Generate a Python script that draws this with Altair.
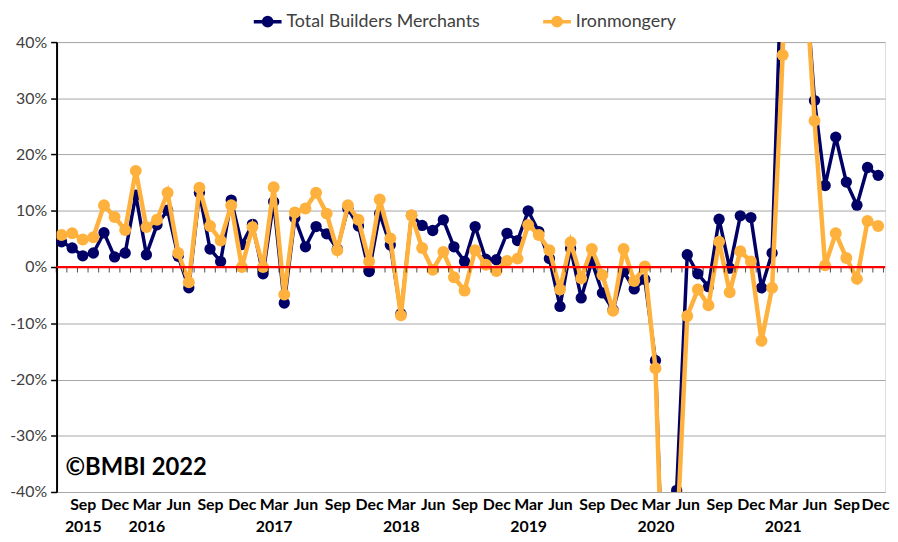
import altair as alt
import pandas as pd

# Monthly year-on-year change (%), Jul 2015 .. Dec 2021
month_names = ["Jan", "Feb", "Mar", "Apr", "May", "Jun", "Jul", "Aug", "Sep", "Oct", "Nov", "Dec"]
start_year = 2015
start_month_index = 6  # July (0 = Jan)

total_builders = [
    4.5, 3.4, 2.0, 2.5, 6.1, 1.8,
    2.5, 12.8, 2.2, 7.5, 10.1, 1.9, -3.7, 13.2, 3.2, 1.0, 11.9, 4.0,
    7.6, -1.2, 11.6, -6.4, 8.7, 3.6, 7.2, 5.9, 3.2, 10.4, 7.3, -0.8,
    9.5, 3.9, -8.3, 9.2, 7.4, 6.5, 8.4, 3.6, 1.0, 7.2, 1.4, 1.3,
    6.0, 4.7, 10.0, 6.3, 1.5, -7.0, 3.3, -5.5, 1.0, -4.6, -7.6, -0.8,
    -3.9, -2.2, -16.6, -75.0, -39.7, 2.2, -1.2, -3.5, 8.5, -0.2, 9.1, 8.8,
    -3.7, 2.5, 60.0, 115.0, 55.0, 29.6, 14.5, 23.1, 15.1, 11.0, 17.7, 16.3,
]
ironmongery = [
    5.7, 6.0, 4.9, 5.3, 11.0, 8.9,
    6.6, 17.1, 7.1, 8.4, 13.2, 2.5, -2.7, 14.1, 7.3, 4.7, 11.0, 0.0,
    7.1, 0.0, 14.2, -4.9, 9.7, 10.4, 13.2, 9.5, 3.0, 11.0, 8.4, 1.0,
    12.0, 5.1, -8.6, 9.2, 3.4, -0.5, 2.7, -1.8, -4.2, 3.0, 0.4, -0.7,
    1.1, 1.5, 7.5, 5.7, 3.0, -4.0, 4.4, -2.0, 3.2, -1.4, -7.8, 3.2,
    -2.5, 0.1, -18.0, -77.0, -49.0, -8.7, -4.0, -6.8, 4.5, -4.5, 2.8, 1.0,
    -13.1, -3.7, 37.7, 120.0, 56.0, 26.0, 0.3, 6.0, 1.6, -2.1, 8.2, 7.3,
]
series_names = ["Total Builders Merchants", "Ironmongery"]
series_colors = ["#000066", "#FFB13D"]
y_ticks = [-0.4, -0.3, -0.2, -0.1, 0.0, 0.1, 0.2, 0.3, 0.4]
x_tick_step = 3
x_first_tick = 2  # Sep 2015
copyright_label = "\u00a9BMBI 2022"

n = len(total_builders)
rows = []
for i in range(n):
    rows.append({"idx": i, "value": total_builders[i] / 100, "series": series_names[0]})
for i in range(n):
    rows.append({"idx": i, "value": ironmongery[i] / 100, "series": series_names[1]})
df = pd.DataFrame(rows)
bounds = pd.DataFrame({"b": [i + 0.5 for i in range(-1, n)]})
single = pd.DataFrame({"label": [copyright_label]})

x_ticks = list(range(x_first_tick, n, x_tick_step))
arr = "[" + ",".join("'" + m + "'" for m in month_names) + "]"
label_expr = (
    f"[{arr}[(datum.value+{start_month_index})%12], "
    f"(((datum.value+{start_month_index})%12)==2 || datum.value=={x_first_tick}) ? "
    f"'' + ({start_year}+floor((datum.value+{start_month_index})/12)) : '']"
)

x_scale = alt.Scale(domain=[-0.47, n - 1 + 0.65], nice=False, zero=False)
y_scale = alt.Scale(domain=[-0.4, 0.4], nice=False)
color_scale = alt.Scale(domain=series_names, range=series_colors)

legend_path = "M-1,0H1M-0.3,0A0.3,0.3,0,1,1,0.3,0A0.3,0.3,0,1,1,-0.3,0Z"

x_axis = alt.Axis(values=x_ticks, labelExpr=label_expr, grid=False, domain=False,
                  ticks=False, labelFont="Lato", labelFontWeight="bold",
                  labelFontSize=16, labelColor="#000000", labelPadding=5,
                  labelLineHeight=22, labelOverlap=False, labelBound=False,
                  labelFlush=9, labelFlushOffset=11, labelBaseline="top")
y_axis = alt.Axis(values=y_ticks, labelExpr="round(datum.value*100) + '%'",
                  grid=True, gridColor="#a6a6a6", gridWidth=1,
                  domain=True, domainColor="#000000", domainWidth=2,
                  ticks=True, tickColor="#000000", tickSize=6, tickWidth=1.5,
                  labelFont="Lato", labelFontSize=16, labelColor="#404040",
                  labelPadding=4)

x_enc = alt.X("idx:Q", scale=x_scale, title=None, axis=x_axis)
y_enc = alt.Y("value:Q", scale=y_scale, title=None, axis=y_axis)
color_enc = alt.Color("series:N", scale=color_scale, title=None,
                      legend=alt.Legend(orient="none", legendX=197, legendY=-37,
                                        direction="horizontal", symbolType=legend_path,
                                        symbolSize=784, symbolStrokeWidth=3.5,
                                        labelFont="Lato", labelFontSize=18, labelLimit=400,
                                        labelColor="#404040", labelOffset=3,
                                        columnPadding=56, padding=0))

base = alt.Chart(df)

layers = []
for name, lw, sz in [(series_names[0], 3.5, 130), (series_names[1], 4.5, 145)]:
    sub = base.transform_filter(alt.datum.series == name)
    layers.append(sub.mark_line(strokeWidth=lw, clip=True).encode(x=x_enc, y=y_enc, color=color_enc))
    layers.append(sub.mark_circle(size=sz, opacity=1, clip=True).encode(x=x_enc, y=y_enc, color=color_enc))

ticks0 = alt.Chart(bounds).mark_tick(color="#000000", thickness=1, size=5, yOffset=3,
                                     orient="vertical").encode(
    x=alt.X("b:Q", scale=x_scale, axis=x_axis, title=None),
    y=alt.datum(0))

zero_rule = alt.Chart(single).mark_rule(color="#FF0000", strokeWidth=2.2).encode(y=alt.datum(0))

copyright_text = alt.Chart(single).mark_text(
    font="Lato", fontWeight="bold", fontSize=24, align="left",
    baseline="alphabetic", color="#000000").encode(
    text="label:N", x=alt.value(9), y=alt.value(437))

chart = alt.layer(*layers, ticks0, zero_rule, copyright_text).properties(
    width=836, height=454,
    autosize=alt.AutoSizeParams(type="none"),
    padding={"left": 49, "top": 32, "right": 5, "bottom": 40},
).configure_view(stroke=None).configure(background="#ffffff")

chart.save("out.html", embed_options={"renderer": "svg", "actions": False})
